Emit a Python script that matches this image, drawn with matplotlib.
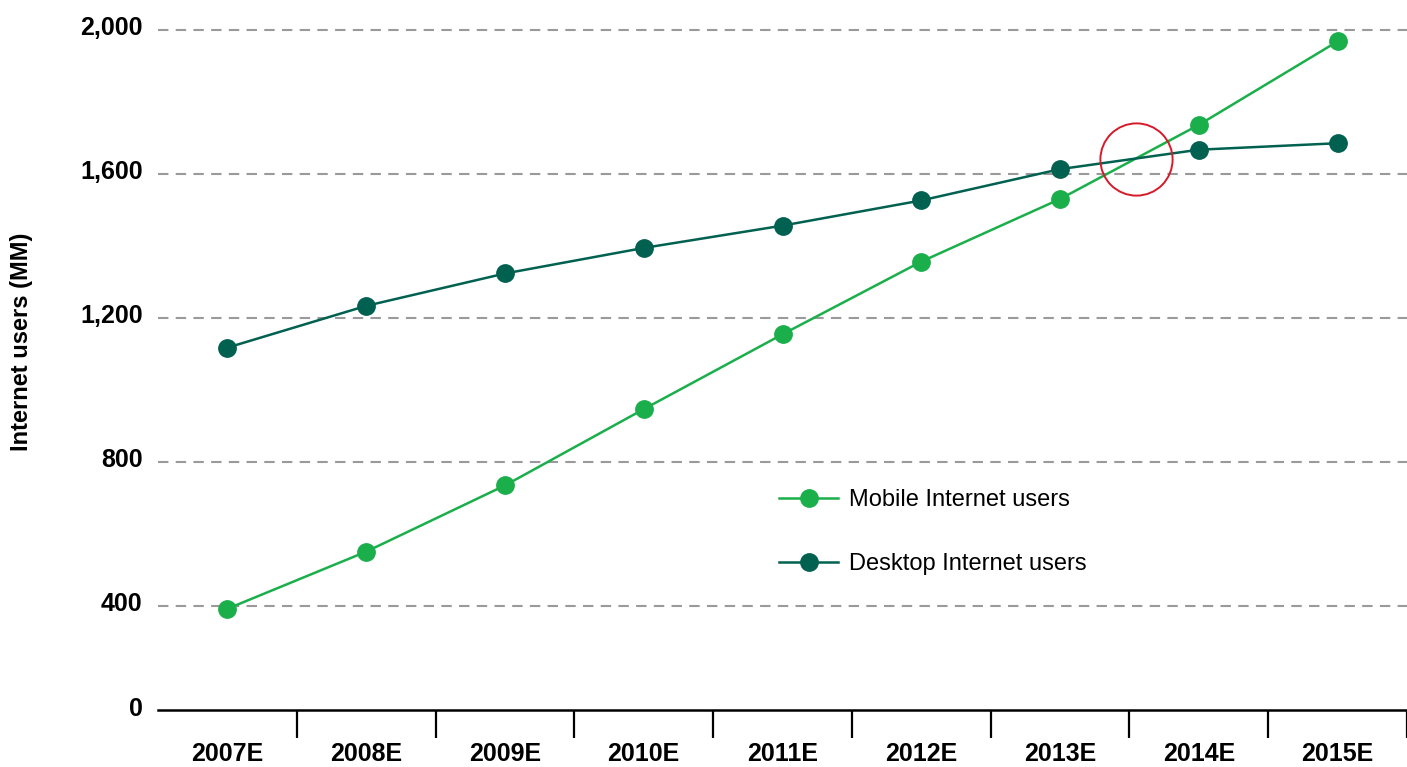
import matplotlib
matplotlib.use("Agg")
import matplotlib.pyplot as plt
import matplotlib.transforms as mtransforms
from matplotlib.scale import FuncScale
import numpy as np

years = ["2007E", "2008E", "2009E", "2010E", "2011E", "2012E", "2013E", "2014E", "2015E"]
mobile_users = [388, 550, 734, 946, 1154, 1356, 1530, 1736, 1968]
desktop_users = [1117, 1233, 1323, 1394, 1456, 1526, 1613, 1667, 1685]
y_ticks = [0, 400, 800, 1200, 1600, 2000]
y_tick_labels = ["0", "400", "800", "1,200", "1,600", "2,000"]

MOBILE = "#1aaf4b"
DESKTOP = "#006150"
GRID = "#9a9a9c"

plt.rcParams["font.family"] = ["Liberation Sans", "DejaVu Sans"]

# the 0-400 band is squeezed relative to the rest of the axis
SQUEEZE = 0.725


def fwd(y):
    y = np.asarray(y, dtype=float)
    return np.where(y < 400, y * SQUEEZE, 400 * SQUEEZE + (y - 400))


def inv(v):
    v = np.asarray(v, dtype=float)
    return np.where(v < 400 * SQUEEZE, v / SQUEEZE, v - 400 * SQUEEZE + 400)


fig = plt.figure(figsize=(14.07, 7.67), dpi=100)
ax = fig.add_axes([158 / 1407, 1 - 710 / 767, 1 - 158 / 1407, 710 / 767])
ax.set_yscale(FuncScale(ax.yaxis, (fwd, inv)))

x = np.arange(len(years))
ax.plot(x, mobile_users, color=MOBILE, lw=1.8, marker="o", ms=12.5,
        label="Mobile Internet users", zorder=3)
ax.plot(x, desktop_users, color=DESKTOP, lw=1.8, marker="o", ms=12.5,
        label="Desktop Internet users", zorder=3)

# circle the point where mobile overtakes desktop
m = np.array(mobile_users, dtype=float)
d = np.array(desktop_users, dtype=float)
diff = m - d
i = int(np.where((diff[:-1] < 0) & (diff[1:] >= 0))[0][0])
t = -diff[i] / (diff[i + 1] - diff[i])
cx = i + t
cy = d[i] + t * (d[i + 1] - d[i])
ax.plot([cx], [cy], marker="o", ms=52, mfc="none", mec="#d7192a", mew=1.4, zorder=4)

ax.set_xlim(-0.5, len(years) - 0.5)
ax.set_ylim(0, 2083)

ax.set_yticks(y_ticks)
ax.set_yticklabels(y_tick_labels, fontsize=18, fontweight="bold")
ax.tick_params(axis="y", length=0, pad=11)
offset = mtransforms.ScaledTranslation(0, 4 / 100, fig.dpi_scale_trans)
for lbl in ax.get_yticklabels():
    lbl.set_transform(lbl.get_transform() + offset)

for v in y_ticks[1:]:
    ax.axhline(v, color=GRID, lw=1.5, ls=(0, (5, 3.5)), zorder=1)

ax.set_xticks(x)
ax.set_xticklabels(years, fontsize=18, fontweight="bold")
ax.tick_params(axis="x", which="major", length=0, pad=23)
ax.set_xticks(np.arange(0.5, len(years)), minor=True)
ax.tick_params(axis="x", which="minor", length=20, width=1.6, direction="out")

for side in ["top", "right", "left"]:
    ax.spines[side].set_visible(False)
ax.spines["bottom"].set_linewidth(1.8)

fig.text(22 / 1407, 1 - 342 / 767, "Internet users (MM)", rotation=90,
         ha="center", va="center", fontsize=17, fontweight="bold")

ax.legend(loc="upper left", bbox_to_anchor=(770 / 1407, 1 - 480 / 767),
          bbox_transform=fig.transFigure, frameon=False, fontsize=17,
          handlelength=2.5, handletextpad=0.45, labelspacing=1.75,
          borderaxespad=0)

fig.savefig("out.png", dpi=100)
